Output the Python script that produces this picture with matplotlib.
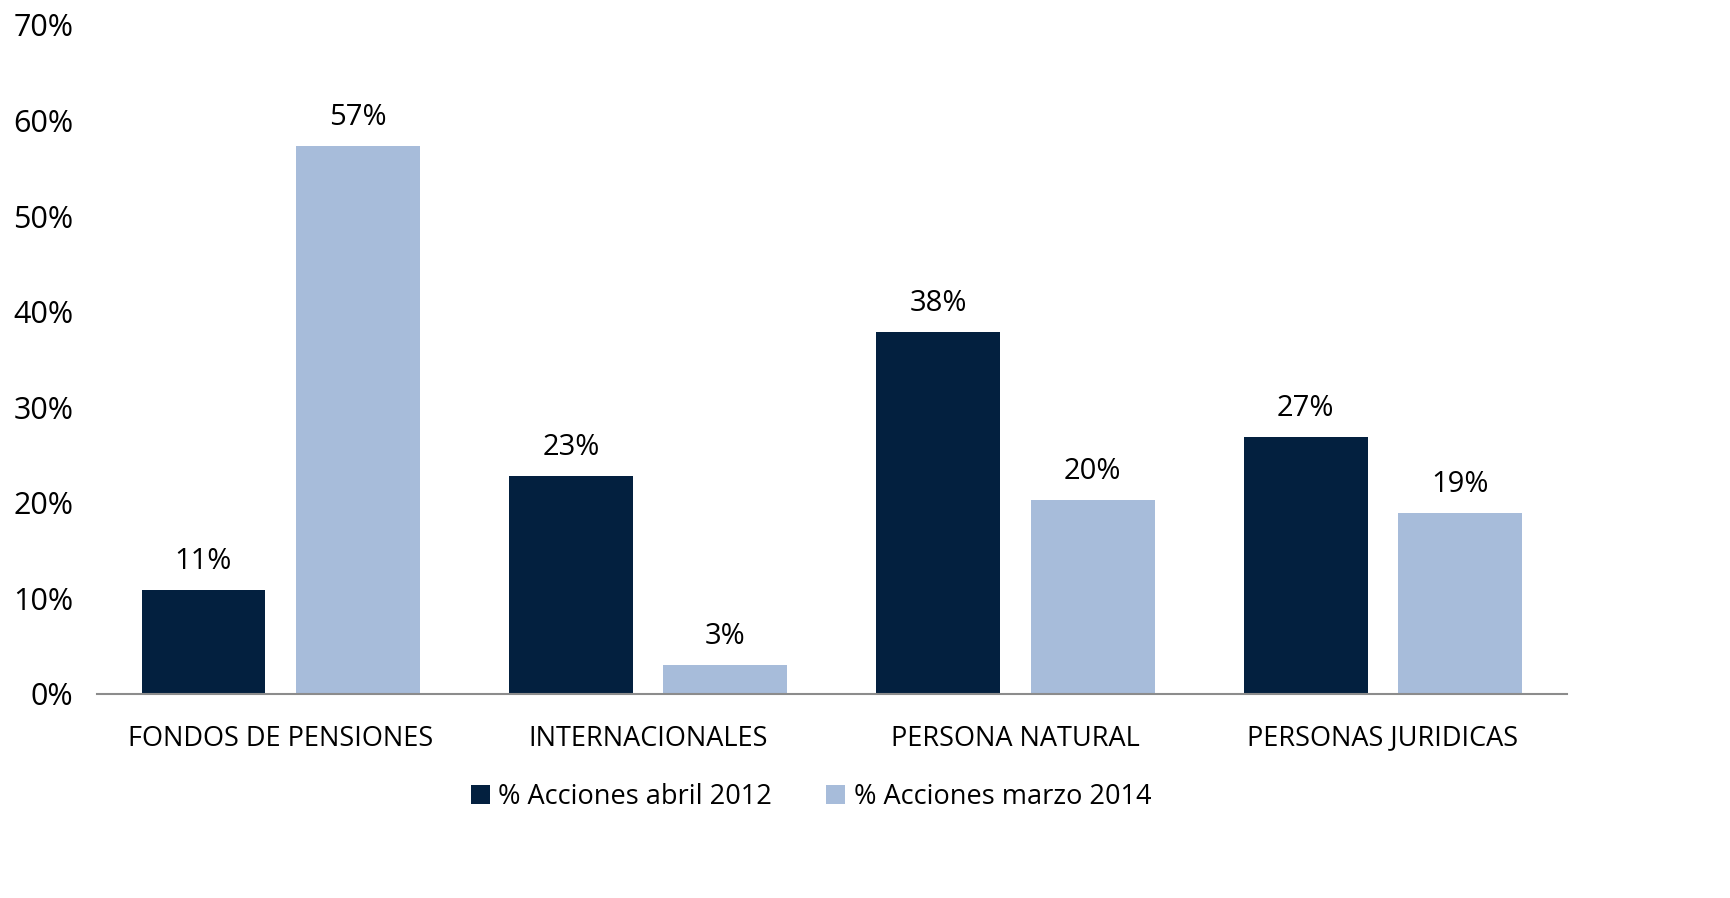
import matplotlib.pyplot as plt
import numpy as np

plt.rcParams['font.family'] = ['Open Sans', 'DejaVu Sans']

categorias = ['FONDOS DE PENSIONES', 'INTERNACIONALES', 'PERSONA NATURAL', 'PERSONAS JURIDICAS']
acciones_2012 = [10.9, 22.8, 37.9, 26.9]
acciones_2014 = [57.3, 3.0, 20.3, 18.9]
etiquetas_2012 = ['11%', '23%', '38%', '27%']
etiquetas_2014 = ['57%', '3%', '20%', '19%']
series = ['% Acciones abril 2012', '% Acciones marzo 2014']

color_oscuro = '#03203F'
color_claro = '#A7BCDA'

fig = plt.figure(figsize=(17.31, 8.98), dpi=100)
ax = fig.add_axes([0.056, 0.2272, 0.849, 0.745])

x = np.arange(len(categorias))
ancho = 0.337
b1 = ax.bar(x - 0.21, acciones_2012, ancho, color=color_oscuro, label=series[0])
b2 = ax.bar(x + 0.21, acciones_2014, ancho, color=color_claro, label=series[1])

for barras, etiquetas in [(b1, etiquetas_2012), (b2, etiquetas_2014)]:
    for b, txt in zip(barras, etiquetas):
        ax.annotate(txt, (b.get_x() + b.get_width() / 2, b.get_height()),
                    xytext=(0, 10), textcoords='offset points',
                    ha='center', va='bottom', fontsize=21, color='black')

ax.set_xlim(-0.5, 3.5)
ax.set_ylim(0, 70)
ax.set_yticks(range(0, 71, 10))
ax.set_yticklabels([f'{v}%' for v in range(0, 71, 10)], fontsize=22)
ax.set_xticks(x)
ax.set_xticklabels(categorias, fontsize=19.5)
ax.tick_params(axis='both', length=0)
ax.tick_params(axis='y', pad=17)
ax.tick_params(axis='x', pad=22)

for s in ['top', 'right', 'left']:
    ax.spines[s].set_visible(False)
ax.spines['bottom'].set_color('#8C8C8C')
ax.spines['bottom'].set_linewidth(1.5)

fig.legend(handles=[b1, b2], labels=series, loc='center', bbox_to_anchor=(0.4686, 0.1125),
           ncol=2, frameon=False, fontsize=19.5, handlelength=0.7, handleheight=0.7,
           handletextpad=0.3, columnspacing=2.0)

fig.savefig('out.png', dpi=100)
